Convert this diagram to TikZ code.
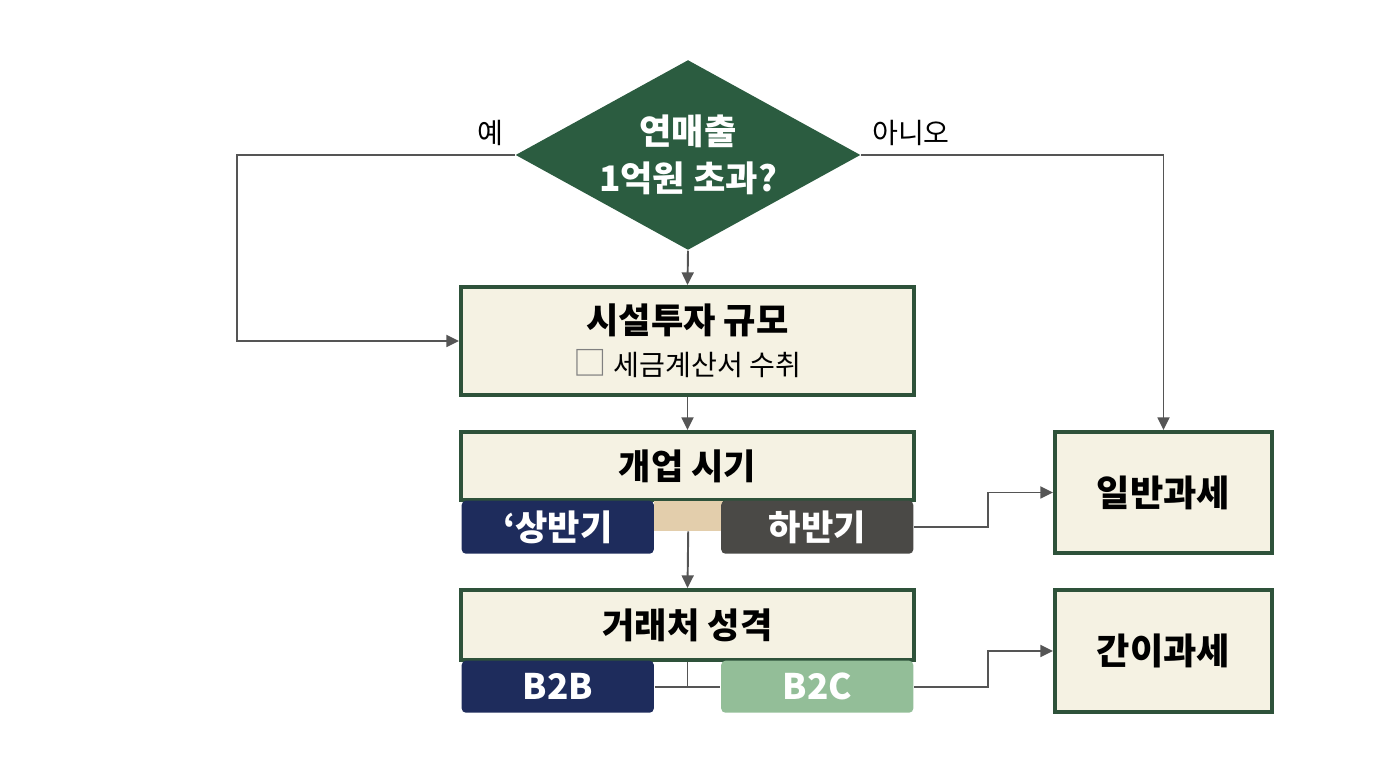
\documentclass[tikz,border=0pt]{standalone}
\usepackage{fontspec}
\setmainfont{Noto Sans CJK KR}
\usepackage{xcolor}
\usetikzlibrary{shapes.geometric, arrows.meta}
\definecolor{forestgreen}{RGB}{43, 92, 64}
\definecolor{boxedge}{RGB}{46, 82, 58}
\definecolor{creambg}{RGB}{245, 242, 227}
\definecolor{navyblue}{RGB}{30, 44, 92}
\definecolor{slategray}{RGB}{74, 73, 70}
\definecolor{sandtan}{RGB}{227, 206, 172}
\definecolor{sagegreen}{RGB}{147, 190, 152}
\definecolor{linegray}{RGB}{85, 85, 85}

\begin{document}
\begin{tikzpicture}[
    x=0.01cm, y=-0.01cm,
    block/.style={
        rectangle, draw=boxedge, fill=creambg, line width=1.1pt,
        align=center, inner sep=0pt, font=\fontsize{10}{12}\selectfont\bfseries
    },
    result/.style={
        block, minimum width=2.17cm, font=\fontsize{10.3}{12}\selectfont\bfseries
    },
    decision/.style={
        diamond, fill=forestgreen, text=white, align=center, inner sep=0pt,
        shape aspect=1.8, minimum width=3.45cm, minimum height=1.9cm,
        font=\fontsize{10}{13.5}\selectfont\bfseries
    },
    bar/.style={
        rectangle, rounded corners=1.2pt, text=white, inner sep=0pt,
        minimum width=1.92cm, minimum height=0.53cm,
        font=\fontsize{10}{12}\selectfont\bfseries
    },
    answer/.style={font=\fontsize{8}{9}\selectfont, inner sep=0pt},
    line/.style={draw, -{Triangle[length=3.6pt, width=3.4pt]}, line width=0.55pt, color=linegray},
    link/.style={draw, line width=0.55pt, color=linegray}
]
    \useasboundingbox (0,0) rectangle (1376,768);

    \node [decision] (sales) at (688,155) {연매출\\1억원 초과?};
    \node [answer] (yes) at (490,133) {예};
    \node [answer] (no)  at (911,133) {아니오};

    \node [block, minimum width=4.53cm, minimum height=1.08cm] (invest) at (687.5,341)
        {시설투자 규모\\{\fontsize{8}{12}\selectfont\mdseries{\color{gray}\fontsize{9.5}{12}\selectfont □} 세금계산서 수취}};

    \node [block, minimum width=4.53cm, minimum height=0.68cm] (startup) at (687.5,466) {개업 시기};
    \node [bar, fill=navyblue,  anchor=north west] (firsthalf)  at (461,500) {‘상반기};
    \node [bar, fill=sandtan, rounded corners=0pt, minimum width=0.69cm, minimum height=0.30cm,
           anchor=north west] (gap) at (653,500) {};
    \node [bar, fill=slategray, anchor=north east] (secondhalf) at (914,500) {하반기};

    \node [block, minimum width=4.53cm, minimum height=0.70cm] (partner) at (687.5,625) {거래처 성격};
    \node [bar, fill=navyblue,  minimum height=0.52cm, anchor=north west] (btob) at (461,660) {B2B};
    \node [bar, fill=sagegreen, minimum height=0.52cm, anchor=north east] (btoc) at (914,660) {B2C};

    \node [result, minimum height=1.21cm] (general) at (1163.5,492.5) {일반과세};
    \node [result, minimum height=1.22cm] (simple)  at (1163.5,651) {간이과세};

    \path [line] (sales.west) -- ++(-278,0) |- (invest.west);
    \path [line] (sales.east) -| (general.north);
    \path [line] (sales.south) -- (invest.north);
    \path [line] (invest.south) -- (startup.north);
    \path [line] (gap.south) -- (partner.north);
    \path [line] (secondhalf.east) -- ++(74,0) |- (general.west);
    \path [link] (btob.east) -- (btoc.west);
    \path [link] (partner.south) -- (partner.south |- btob.east);
    \path [line] (btoc.east) -- ++(74,0) |- (simple.west);
\end{tikzpicture}
\end{document}
